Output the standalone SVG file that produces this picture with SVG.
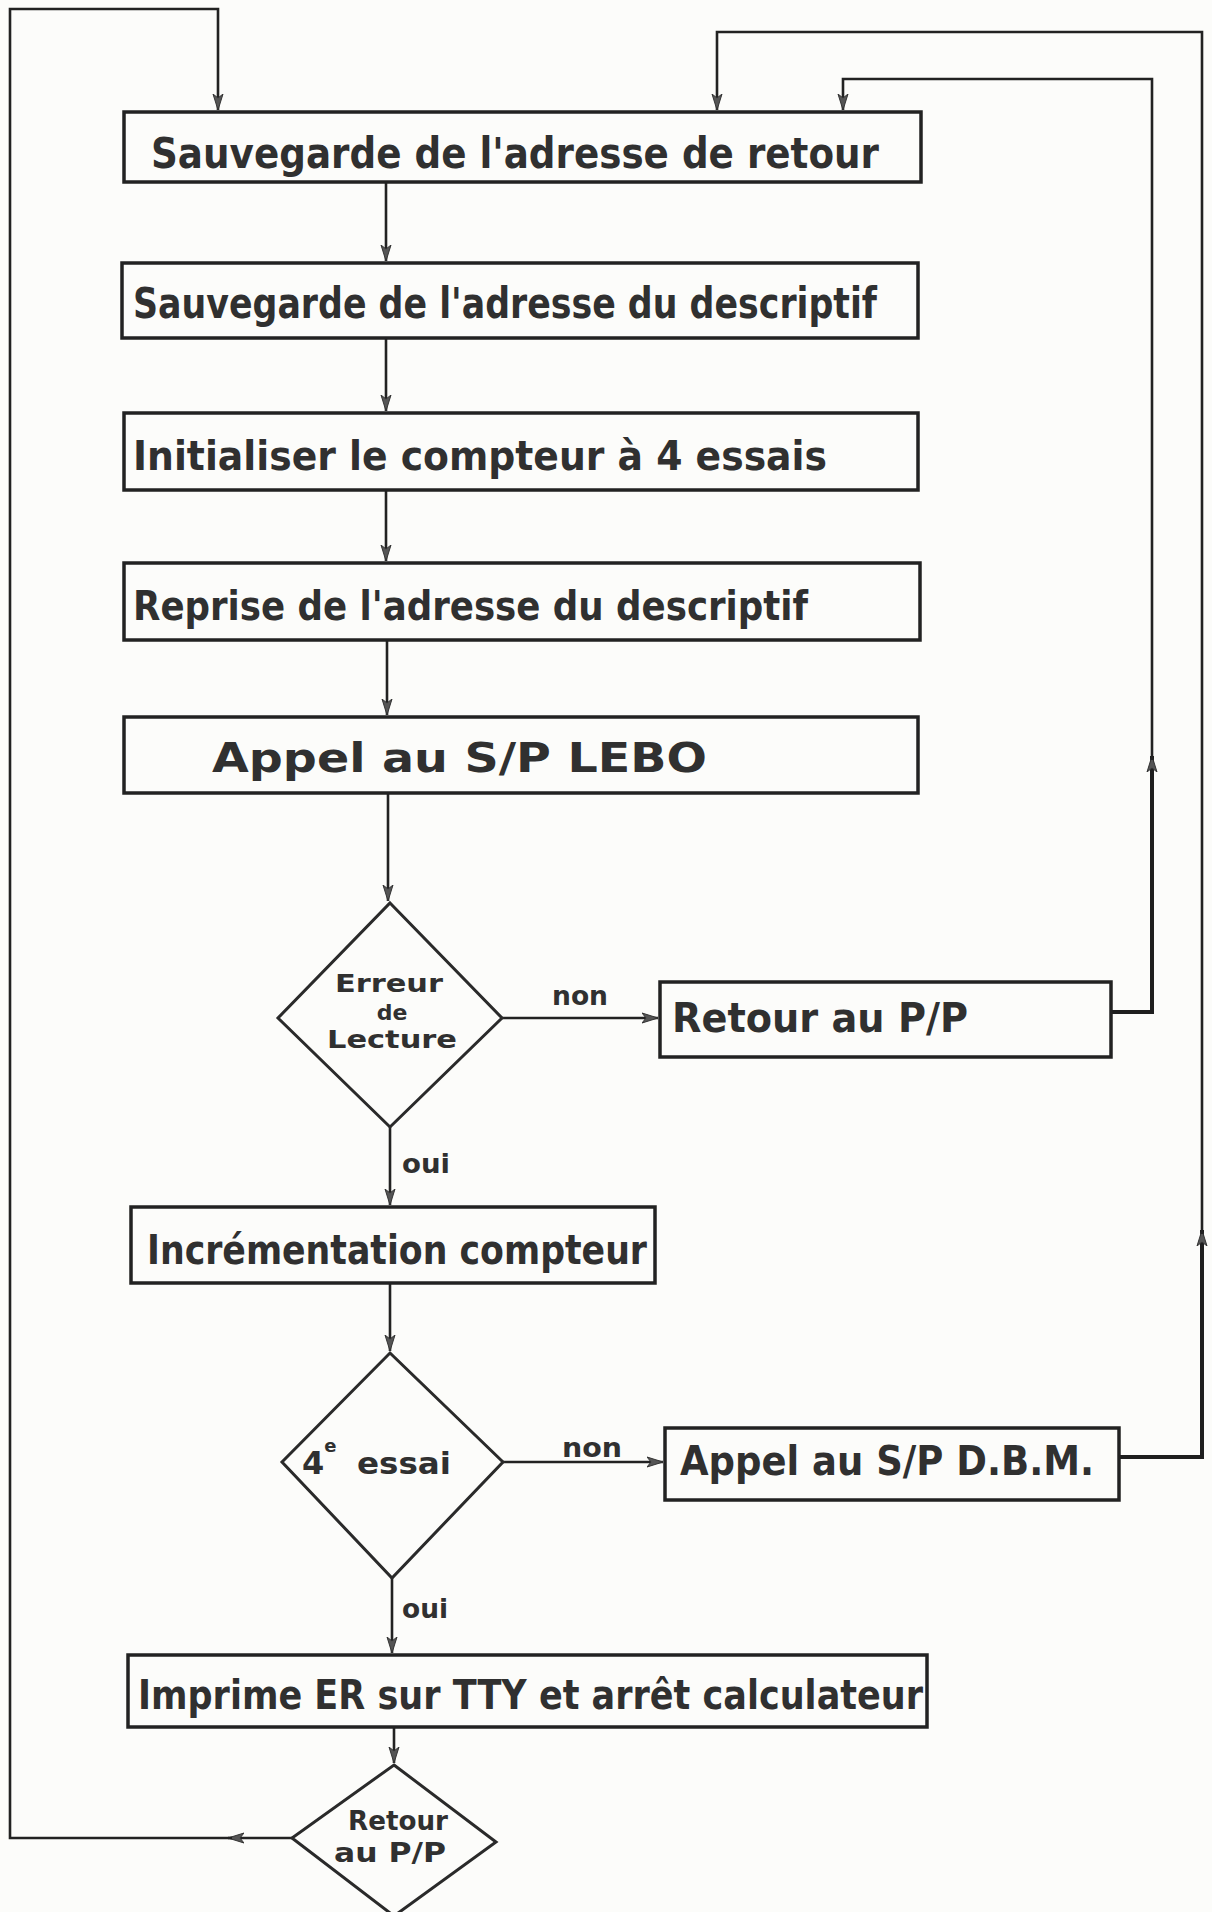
<svg xmlns="http://www.w3.org/2000/svg" width="1212" height="1912" viewBox="0 0 1212 1912">
  <style>
    .box { fill: none; stroke: #222; stroke-width: 3.5; }
    .dia { fill: none; stroke: #2a2a2a; stroke-width: 3; stroke-linejoin: miter; }
    .ln { fill: none; stroke: #222; stroke-width: 2.6; }
    .lnb { fill: none; stroke: #1e1e1e; stroke-width: 4; }
    .t { font-family: "DejaVu Sans", "Liberation Sans", sans-serif; font-weight: bold; fill: #303030; }
    .big { font-size: 42px; }
    .mid { font-size: 40px; }
    .sm { font-size: 26px; }
    .lab { font-size: 27px; }
  </style>
  <defs>
    <marker id="ah" markerUnits="userSpaceOnUse" markerWidth="18" markerHeight="12" refX="16" refY="6" orient="auto">
      <path d="M0,1 L16,6 L0,11 L4,6 Z" fill="#555" stroke="#333" stroke-width="1"/>
    </marker>
  </defs>
  <rect x="0" y="0" width="1212" height="1912" fill="#fcfcfa"/>

  <g id="connectors">
    <!-- main column -->
    <path class="ln" d="M386,182 V261" marker-end="url(#ah)"/>
    <path class="ln" d="M386,338 V411" marker-end="url(#ah)"/>
    <path class="ln" d="M386,490 V561" marker-end="url(#ah)"/>
    <path class="ln" d="M387,640 V715" marker-end="url(#ah)"/>
    <path class="ln" d="M388,793 V901" marker-end="url(#ah)"/>
    <path class="ln" d="M390,1127 V1205" marker-end="url(#ah)"/>
    <path class="ln" d="M390,1283 V1351" marker-end="url(#ah)"/>
    <path class="ln" d="M392,1578 V1653" marker-end="url(#ah)"/>
    <path class="ln" d="M394,1727 V1763" marker-end="url(#ah)"/>
    <!-- non branches -->
    <path class="ln" d="M502,1018 H658" marker-end="url(#ah)"/>
    <path class="ln" d="M503,1462 H663" marker-end="url(#ah)"/>
    <!-- return from Retour au P/P -->
    <path class="lnb" d="M1111,1012 H1152 V756" marker-end="url(#ah)"/>
    <path class="ln" d="M1152,760 V79 H843 V110" marker-end="url(#ah)"/>
    <!-- return from Appel au S/P D.B.M. -->
    <path class="lnb" d="M1119,1457 H1202 V1230" marker-end="url(#ah)"/>
    <path class="ln" d="M1202,1234 V32 H717 V110" marker-end="url(#ah)"/>
    <!-- final return loop -->
    <path class="ln" d="M292,1838 H228" marker-end="url(#ah)"/>
    <path class="ln" d="M232,1838 H10 V9 H218 V110" marker-end="url(#ah)"/>
  </g>

  <g id="n1">
    <rect class="box" x="124" y="112" width="797" height="70"/>
    <text class="t big" x="151" y="168" textLength="728" lengthAdjust="spacingAndGlyphs">Sauvegarde de l'adresse de retour</text>
  </g>
  <g id="n2">
    <rect class="box" x="122" y="263" width="796" height="75"/>
    <text class="t big" x="133" y="318" textLength="744" lengthAdjust="spacingAndGlyphs">Sauvegarde de l'adresse du descriptif</text>
  </g>
  <g id="n3">
    <rect class="box" x="124" y="413" width="794" height="77"/>
    <text class="t mid" x="133" y="470" textLength="694" lengthAdjust="spacingAndGlyphs">Initialiser le compteur à 4 essais</text>
  </g>
  <g id="n4">
    <rect class="box" x="124" y="563" width="796" height="77"/>
    <text class="t mid" x="133" y="620" textLength="675" lengthAdjust="spacingAndGlyphs">Reprise de l'adresse du descriptif</text>
  </g>
  <g id="n5">
    <rect class="box" x="124" y="717" width="794" height="76"/>
    <text class="t mid" x="212" y="772" textLength="495" lengthAdjust="spacingAndGlyphs">Appel  au S/P  LEBO</text>
  </g>
  <g id="d1">
    <polygon class="dia" points="390,903 502,1018 390,1127 278,1018"/>
    <text class="t" font-size="24" x="389" y="992" text-anchor="middle" textLength="108" lengthAdjust="spacingAndGlyphs">Erreur</text>
    <text class="t" font-size="22" x="392" y="1020" text-anchor="middle">de</text>
    <text class="t" font-size="24" x="392" y="1048" text-anchor="middle" textLength="130" lengthAdjust="spacingAndGlyphs">Lecture</text>
    <text class="t lab" x="552" y="1005" textLength="56" lengthAdjust="spacingAndGlyphs">non</text>
    <text class="t lab" x="402" y="1173" textLength="48" lengthAdjust="spacingAndGlyphs">oui</text>
  </g>
  <g id="n6">
    <rect class="box" x="660" y="982" width="451" height="75"/>
    <text class="t mid" x="672" y="1032" textLength="296" lengthAdjust="spacingAndGlyphs">Retour  au  P/P</text>
  </g>
  <g id="n7">
    <rect class="box" x="131" y="1207" width="524" height="76"/>
    <text class="t mid" x="147" y="1264" textLength="500" lengthAdjust="spacingAndGlyphs">Incrémentation compteur</text>
  </g>
  <g id="d2">
    <polygon class="dia" points="390,1353 503,1462 392,1578 282,1462"/>
    <text class="t" font-size="32" x="302" y="1474">4<tspan font-size="18" dy="-22">e</tspan></text>
    <text class="t" font-size="30" x="357" y="1474" textLength="94" lengthAdjust="spacingAndGlyphs">essai</text>
    <text class="t lab" x="562" y="1457" textLength="60" lengthAdjust="spacingAndGlyphs">non</text>
    <text class="t lab" x="402" y="1618" textLength="46" lengthAdjust="spacingAndGlyphs">oui</text>
  </g>
  <g id="n8">
    <rect class="box" x="665" y="1428" width="454" height="72"/>
    <text class="t mid" x="680" y="1475" textLength="414" lengthAdjust="spacingAndGlyphs">Appel au S/P  D.B.M.</text>
  </g>
  <g id="n9">
    <rect class="box" x="128" y="1655" width="799" height="72"/>
    <text class="t mid" x="138" y="1709" textLength="785" lengthAdjust="spacingAndGlyphs">Imprime ER sur TTY et arrêt calculateur</text>
  </g>
  <g id="d3">
    <polygon class="dia" points="394,1765 496,1842 394,1916 292,1838"/>
    <text class="t sm" x="398" y="1830" text-anchor="middle" textLength="100" lengthAdjust="spacingAndGlyphs">Retour</text>
    <text class="t sm" x="390" y="1862" text-anchor="middle" textLength="112" lengthAdjust="spacingAndGlyphs">au  P/P</text>
  </g>
</svg>
